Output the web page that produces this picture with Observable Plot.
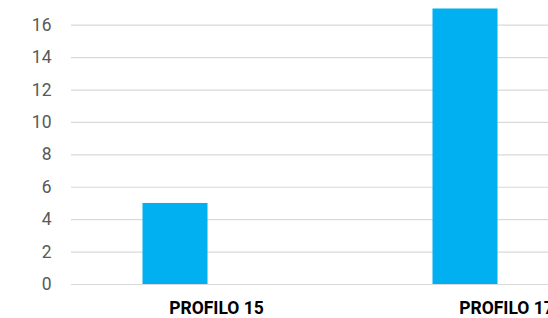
<!DOCTYPE html>
<html><head><meta charset="utf-8">
<script src="https://cdn.jsdelivr.net/npm/d3@7"></script>
<script src="https://cdn.jsdelivr.net/npm/@observablehq/plot@0.6"></script>
<style>
html,body{margin:0;padding:0;background:#fff;overflow:hidden}
#chart{width:548px;height:318px;overflow:hidden}
#chart svg{overflow:hidden}
</style>
</head><body><div id="chart"></div>
<script>
const categories = ["PROFILO 15", "PROFILO 17"];
const values = [5, 17];
const yTicks = [0, 2, 4, 6, 8, 10, 12, 14, 16];

const data = categories.map((c, i) => ({category: c, value: values[i]}));

const chart = Plot.plot({
  width: 548,
  height: 318,
  marginLeft: 71,
  marginRight: 0,
  marginTop: 24.7,
  marginBottom: 34,
  style: {fontFamily: "Roboto", background: "#fff", overflow: "hidden"},
  x: {domain: categories, range: [71, 651], padding: 0, label: null},
  y: {domain: [0, 16], range: [284, 24.7], label: null},
  marks: [
    Plot.ruleY(yTicks, {stroke: "#d9d9d9", strokeWidth: 1.2}),
    Plot.barY(data, {x: "category", y: "value", fill: "#00b0f0", insetLeft: 71.5, insetRight: 153.5}),
    Plot.axisY(yTicks, {tickSize: 0, tickPadding: 20, fontSize: 17.5, fill: "#595959", label: null}),
    Plot.axisX({tickSize: 0, tickPadding: 17.5, fontSize: 17.5, fontWeight: "bold", fill: "#000", label: null})
  ]
});
document.getElementById("chart").appendChild(chart);
</script>
</body></html>
